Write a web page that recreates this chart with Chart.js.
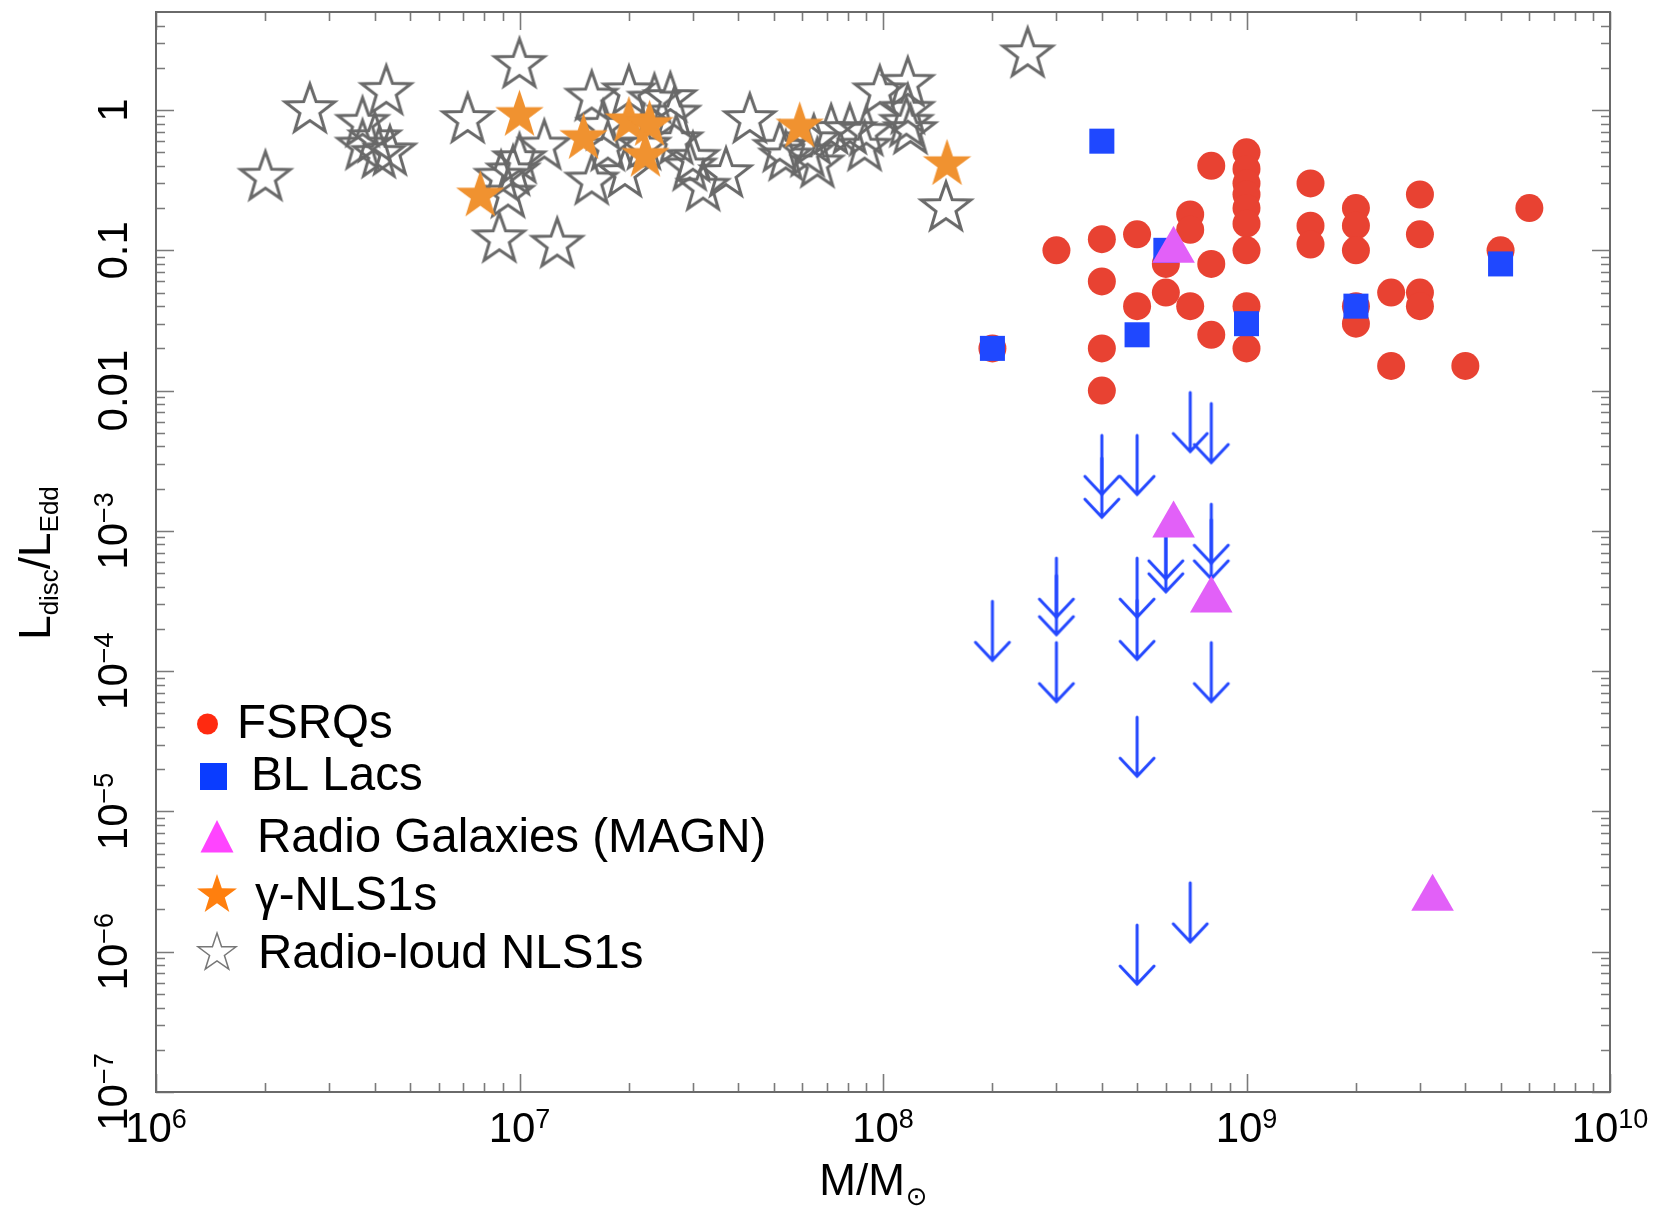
<!DOCTYPE html>
<html lang="en">
<head>
<meta charset="UTF-8">
<title>Ldisc/LEdd vs black hole mass</title>
<style>
    body { margin: 0; background: #ffffff; }
    #wrap { width: 1657px; height: 1208px; }
</style>
<script src="https://cdn.jsdelivr.net/npm/chart.js"></script>
</head>
<body>
<div id="wrap"><canvas id="chart" width="1657" height="1208"></canvas></div>
<script>
// ---- data (mass in solar masses, Ldisc/LEdd) ----
const fsrqMass  = [3e8, 4e8, 4e8, 4e8, 4e8, 5e8, 5e8, 6e8, 6e8, 7e8, 7e8, 7e8, 8e8, 8e8, 8e8,
                   1e9, 1e9, 1e9, 1e9, 1e9, 1e9, 1e9, 1e9, 1e9,
                   1.5e9, 1.5e9, 1.5e9, 2e9, 2e9, 2e9, 2e9, 2e9, 2.5e9, 2.5e9,
                   3e9, 3e9, 3e9, 3e9, 4e9, 5e9, 6e9, 2e8];
const fsrqRatio = [0.1, 0.12, 0.06, 0.02, 0.01, 0.13, 0.04, 0.08, 0.05, 0.18, 0.14, 0.04, 0.4, 0.08, 0.025,
                   0.5, 0.38, 0.3, 0.25, 0.2, 0.155, 0.1, 0.04, 0.02,
                   0.3, 0.15, 0.11, 0.2, 0.15, 0.1, 0.04, 0.03, 0.05, 0.015,
                   0.25, 0.13, 0.05, 0.04, 0.015, 0.1, 0.2, 0.02];

const blLacMass  = [2e8, 4e8, 5e8, 6e8, 1e9, 2e9, 5e9];
const blLacRatio = [0.02, 0.6, 0.025, 0.1, 0.03, 0.04, 0.08];

// BL Lac upper limits (drawn as arrows)
const limitMass  = [2e8, 3e8, 3e8, 3e8, 4e8, 4e8, 5e8, 5e8, 5e8, 5e8, 5e8, 6e8, 6e8, 7e8, 8e8, 8e8, 8e8, 8e8, 7e8];
const limitRatio = [3.15e-4, 6.4e-4, 4.8e-4, 1.6e-4, 4.8e-3, 3.3e-3, 4.8e-3, 6.4e-4, 3.2e-4, 4.7e-5, 1.55e-6,
                    1.2e-3, 9.7e-4, 9.7e-3, 8.1e-3, 1.55e-3, 1.2e-3, 1.6e-4, 3.1e-6];

const magnMass  = [6.3e8, 6.3e8, 8e8, 3.25e9];
const magnRatio = [0.1, 1.1e-3, 3.2e-4, 2.4e-6];

const gnls1Mass  = [7.8e6, 1e7, 1.5e7, 2e7, 2.28e7, 2.22e7, 5.9e7, 1.5e8];
const gnls1Ratio = [0.245, 0.92, 0.63, 0.83, 0.78, 0.47, 0.76, 0.41];

const rlnls1Mass  = [2.0e6, 2.65e6, 4.3e6, 3.7e6, 3.7e6, 4.0e6, 4.1e6, 4.4e6,
                     7.2e6, 1.0e7, 8.8e6, 1.27e7, 1.17e7, 8.9e6, 9.6e6, 1.0e7, 9.3e6,
                     1.58e7, 2.0e7, 2.35e7, 2.6e7, 1.58e7, 1.95e7, 1.7e7, 1.75e7, 2.66e7, 2.7e7,
                     2.94e7, 3.2e7, 3.7e7, 3.0e7, 2.2e7,
                     4.3e7, 5.2e7, 5.4e7, 6.2e7, 6.6e7, 6.45e7, 7.2e7, 8.1e7, 8.9e7, 9.0e7,
                     9.8e7, 1.17e8, 1.16e8, 1.17e8, 1.19e8, 1.49e8, 2.5e8];
const rlnls1Ratio = [0.33, 1.0, 1.35, 0.8, 0.55, 0.62, 0.48, 0.5,
                     0.85, 2.1, 0.12, 0.11, 0.55, 0.33, 0.36, 0.44, 0.25,
                     1.23, 1.34, 1.17, 1.2, 0.31, 0.35, 0.76, 0.54, 0.93, 0.6,
                     0.39, 0.28, 0.35, 0.45, 0.55,
                     0.85, 0.53, 0.46, 0.49, 0.41, 0.6, 0.71, 0.71, 0.54, 0.69,
                     1.34, 1.54, 0.8, 0.99, 0.71, 0.2, 2.5];

const legendLabels = ['FSRQs', 'BL Lacs', 'Radio Galaxies (MAGN)', '\u03b3-NLS1s', 'Radio-loud NLS1s'];

// axis ticks
const xMajor = [1e6, 1e7, 1e8, 1e9, 1e10];
const xExp   = ['6', '7', '8', '9', '10'];
const yMajor = [1e-7, 1e-6, 1e-5, 1e-4, 1e-3, 0.01, 0.1, 1];
const yBase  = ['10', '10', '10', '10', '10', '0.01', '0.1', '1'];
const yExp   = ['\u22127', '\u22126', '\u22125', '\u22124', '\u22123', '', '', ''];

function pts(xs, ys) {
    return xs.map((v, i) => ({ x: v, y: ys[i] }));
}

function starPath(ctx, cx, cy, outer, inner) {
    ctx.beginPath();
    for (let i = 0; i < 10; i++) {
        const r = i % 2 === 0 ? outer : inner;
        const a = -Math.PI / 2 + i * Math.PI / 5;
        ctx.lineTo(cx + r * Math.cos(a), cy + r * Math.sin(a));
    }
    ctx.closePath();
}

function starCanvas(outer, inner, fill, stroke, lw) {
    const size = Math.ceil(outer * 2 + 14);
    const c = document.createElement('canvas');
    c.width = size; c.height = size;
    const g = c.getContext('2d');
    starPath(g, size / 2, size / 2, outer, inner);
    if (fill) { g.fillStyle = fill; g.fill(); }
    if (stroke) { g.strokeStyle = stroke; g.lineWidth = lw; g.stroke(); }
    return c;
}

// arrow pointing down, the data point is the top of the arrow
function arrowCanvas(len, head, halfW, color, lw) {
    const w = Math.ceil(halfW * 2 + 8), h = Math.ceil(len * 2 + 8);
    const c = document.createElement('canvas');
    c.width = w; c.height = h;
    const g = c.getContext('2d');
    const cx = w / 2, cy = h / 2;
    g.strokeStyle = color; g.lineWidth = lw; g.lineCap = 'round'; g.lineJoin = 'miter';
    g.beginPath();
    g.moveTo(cx, cy); g.lineTo(cx, cy + len);
    g.moveTo(cx - halfW, cy + len - head); g.lineTo(cx, cy + len); g.lineTo(cx + halfW, cy + len - head);
    g.stroke();
    return c;
}

const greyStar = starCanvas(26, 10.5, null, '#696969', 3);
const orangeStar = starCanvas(25.5, 10, '#F09230', null, 0);
const arrow = arrowCanvas(59, 18, 17, '#2448FF', 3);

// ---- axes, labels and legend drawn with the chart's own scales ----
const frame = {
    id: 'frame',
    afterDatasetsDraw(chart) {
        const { ctx, chartArea: a, scales: { x, y } } = chart;
        ctx.save();
        ctx.strokeStyle = '#7a7a7a';
        ctx.lineWidth = 1.6;
        // x ticks (bottom + top, inward)
        for (let d = 6; d <= 10; d++) {
            for (let m = 1; m <= 9; m++) {
                const v = m * Math.pow(10, d);
                if (v > 1e10 || (d === 10 && m > 1)) continue;
                const px = Math.round(x.getPixelForValue(v)) + 0.5;
                const len = m === 1 ? 18 : 9;
                ctx.beginPath();
                ctx.moveTo(px, a.bottom); ctx.lineTo(px, a.bottom - len);
                ctx.moveTo(px, a.top); ctx.lineTo(px, a.top + len);
                ctx.stroke();
            }
        }
        // y ticks (left + right, inward)
        for (let d = -7; d <= 0; d++) {
            for (let m = 1; m <= 9; m++) {
                const v = m * Math.pow(10, d);
                if (v >= 5) continue;
                const py = Math.round(y.getPixelForValue(v)) + 0.5;
                const len = m === 1 ? 18 : 9;
                ctx.beginPath();
                ctx.moveTo(a.left, py); ctx.lineTo(a.left + len, py);
                ctx.moveTo(a.right, py); ctx.lineTo(a.right - len, py);
                ctx.stroke();
            }
        }
        ctx.strokeStyle = '#6a6a6a';
        ctx.lineWidth = 2;
        ctx.strokeRect(a.left, a.top, a.right - a.left, a.bottom - a.top);

        const font = '"Liberation Sans", Arial, Helvetica, sans-serif';
        ctx.fillStyle = '#000';
        ctx.textBaseline = 'alphabetic';
        ctx.textAlign = 'left';

        // x tick labels
        xMajor.forEach((v, i) => {
            const px = x.getPixelForValue(v);
            ctx.font = '42px ' + font;
            const w1 = ctx.measureText('10').width;
            ctx.font = '27px ' + font;
            const w2 = ctx.measureText(xExp[i]).width;
            const x0 = px - (w1 + w2) / 2;
            ctx.font = '42px ' + font;
            ctx.fillText('10', x0, 1142);
            ctx.font = '27px ' + font;
            ctx.fillText(xExp[i], x0 + w1, 1128);
        });

        // y tick labels (rotated, reading upwards)
        yMajor.forEach((v, i) => {
            const py = y.getPixelForValue(v);
            ctx.save();
            ctx.translate(127, py);
            ctx.rotate(-Math.PI / 2);
            ctx.font = '42px ' + font;
            const w1 = ctx.measureText(yBase[i]).width;
            ctx.font = '27px ' + font;
            const w2 = yExp[i] ? ctx.measureText(yExp[i]).width : 0;
            const u0 = -(w1 + w2) / 2;
            ctx.font = '42px ' + font;
            ctx.fillText(yBase[i], u0, 0);
            if (yExp[i]) {
                ctx.font = '27px ' + font;
                ctx.fillText(yExp[i], u0 + w1, -14);
            }
            ctx.restore();
        });

        // x title: M/M_sun
        ctx.font = '44px ' + font;
        const wm = ctx.measureText('M/M').width;
        ctx.font = '26px "DejaVu Sans", sans-serif';
        const ws = ctx.measureText('\u2299').width;
        const xs = 873 - (wm + ws) / 2;
        ctx.font = '44px ' + font;
        ctx.fillText('M/M', xs, 1195);
        ctx.font = '26px "DejaVu Sans", sans-serif';
        ctx.fillText('\u2299', xs + wm + 1, 1205);

        // y title: L_disc / L_Edd
        ctx.save();
        ctx.translate(50, 563);
        ctx.rotate(-Math.PI / 2);
        const parts = [['L', 44, 0], ['disc', 26, 8], ['/L', 44, 0], ['Edd', 26, 8]];
        let total = 0;
        parts.forEach(p => { ctx.font = p[1] + 'px ' + font; total += ctx.measureText(p[0]).width; });
        let u = -total / 2;
        parts.forEach(p => {
            ctx.font = p[1] + 'px ' + font;
            ctx.fillText(p[0], u, p[2]);
            u += ctx.measureText(p[0]).width;
        });
        ctx.restore();

        // legend
        ctx.fillStyle = '#FF2A10';
        ctx.beginPath(); ctx.arc(207.5, 724, 10.5, 0, Math.PI * 2); ctx.fill();
        ctx.fillStyle = '#0A3CFF';
        ctx.fillRect(200, 763, 27, 27);
        ctx.fillStyle = '#FF44FF';
        ctx.beginPath(); ctx.moveTo(217, 820); ctx.lineTo(233.5, 852.5); ctx.lineTo(200.5, 852.5); ctx.closePath(); ctx.fill();
        ctx.fillStyle = '#FF7F0E';
        starPath(ctx, 217, 895, 21, 8.2); ctx.fill();
        ctx.strokeStyle = '#777'; ctx.lineWidth = 1.5;
        starPath(ctx, 217, 953, 20, 7.8); ctx.stroke();

        ctx.fillStyle = '#000';
        ctx.font = '47.5px ' + font;
        const lx = [237, 251, 257, 255, 258];
        const ly = [738, 790, 852, 910, 968];
        legendLabels.forEach((t, i) => ctx.fillText(t, lx[i], ly[i]));
        ctx.restore();
    }
};

new Chart(document.getElementById('chart'), {
    type: 'scatter',
    data: {
        datasets: [
            { label: legendLabels[3], data: pts(gnls1Mass, gnls1Ratio), pointStyle: orangeStar, pointRadius: 12 },
            { label: legendLabels[4], data: pts(rlnls1Mass, rlnls1Ratio), pointStyle: greyStar, pointRadius: 12 },
            { label: legendLabels[2], data: pts(magnMass, magnRatio), pointStyle: 'triangle', pointRadius: 24.6,
              backgroundColor: '#E260F8', borderWidth: 0 },
            { label: 'BL Lacs (upper limits)', data: pts(limitMass, limitRatio), pointStyle: arrow, pointRadius: 10 },
            { label: legendLabels[1], data: pts(blLacMass, blLacRatio), pointStyle: 'rect', pointRadius: 17.7,
              backgroundColor: '#1F48FF', borderWidth: 0 },
            { label: legendLabels[0], data: pts(fsrqMass, fsrqRatio), pointStyle: 'circle', pointRadius: 14,
              backgroundColor: '#E84232', borderWidth: 0 }
        ]
    },
    options: {
        responsive: false,
        animation: false,
        devicePixelRatio: 1,
        events: [],
        layout: { autoPadding: false, padding: { left: 156, right: 47, top: 12, bottom: 116 } },
        plugins: { legend: { display: false }, tooltip: { enabled: false } },
        scales: {
            x: {
                type: 'logarithmic', min: 1e6, max: 1e10,
                grid: { display: false }, border: { display: false },
                ticks: { display: false },
                afterFit: s => { s.height = 0; }
            },
            y: {
                type: 'logarithmic', min: 1e-7, max: 5,
                grid: { display: false }, border: { display: false },
                ticks: { display: false },
                afterFit: s => { s.width = 0; }
            }
        }
    },
    plugins: [frame]
});
</script>
</body>
</html>
